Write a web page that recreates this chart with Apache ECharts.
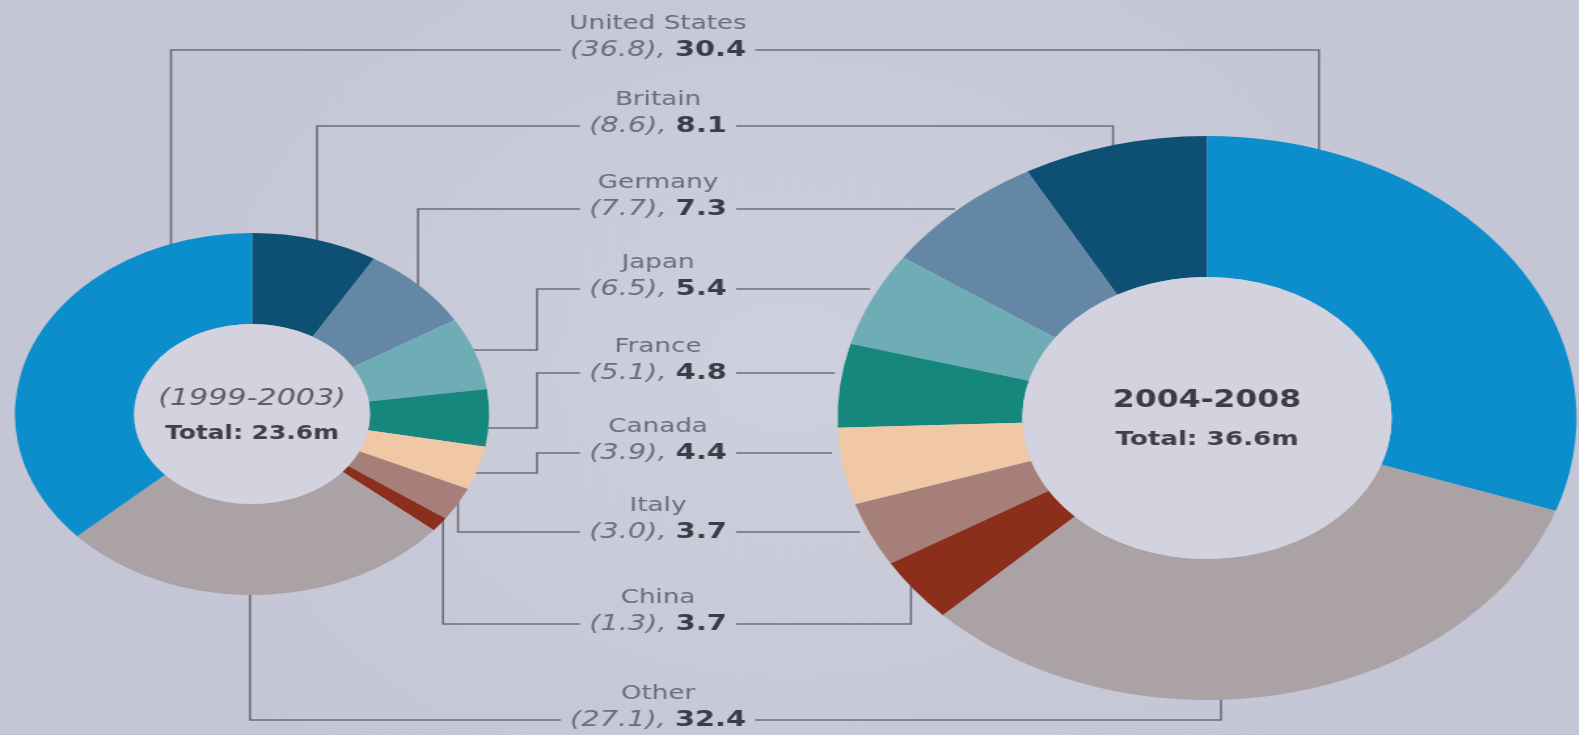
<!DOCTYPE html>
<html>
<head>
<meta charset="utf-8">
<script src="https://cdn.jsdelivr.net/npm/echarts@6/dist/echarts.min.js"></script>
<style>
  html, body { margin: 0; padding: 0; background: #c9cad9; overflow: hidden; }
  #wrap { width: 1579px; height: 735px; overflow: hidden; }
  #chart { height: 735px; transform-origin: 0 0; }
</style>
</head>
<body>
<div id="wrap"><div id="chart"></div></div>
<script>
// shares of the total, percent
const countries = ['United States', 'Britain', 'Germany', 'Japan', 'France', 'Canada', 'Italy', 'China', 'Other'];
const share1999 = [36.8, 8.6, 7.7, 6.5, 5.1, 3.9, 3.0, 1.3, 27.1];
const share2004 = [30.4, 8.1, 7.3, 5.4, 4.8, 4.4, 3.7, 3.7, 32.4];
const periods = ['(1999-2003)', '2004-2008'];
const totals = ['Total: 23.6m', 'Total: 36.6m'];

// slice order from 12 o'clock (left one clockwise, right one anticlockwise)
const pieOrder = ['Britain', 'Germany', 'Japan', 'France', 'Canada', 'Italy', 'China', 'Other', 'United States'];

const colors = {
  'United States': '#0b8ecb',
  'Britain': '#0e4f74',
  'Germany': '#6587a6',
  'Japan': '#6eadb6',
  'France': '#15877c',
  'Canada': '#f1c8a5',
  'Italy': '#a67f79',
  'China': '#8b2e1b',
  'Other': '#aba2a6'
};

// the picture is stretched sideways, so draw narrow and scale the canvas
const SX = 1.31;
const W = Math.ceil(1579 / SX);
const el = document.getElementById('chart');
el.style.width = W + 'px';
el.style.transform = 'scaleX(' + SX + ')';

const FONT = '"DejaVu Sans", Verdana, sans-serif';
const lineColor = '#6d6e7b';

// label rows (y of the value line) and connector routes, page pixels
const rowY = [50, 126, 209, 289, 373, 453, 532, 624, 720];
const labelX = 658;
const leftRoute = [
  [[171, 50], [171, 250]],
  [[317, 126], [317, 250]],
  [[418, 209], [418, 295]],
  [[537, 289], [537, 350], [466, 350]],
  [[537, 373], [537, 428], [478, 428]],
  [[537, 453], [537, 473], [466, 473]],
  [[458, 532], [458, 495]],
  [[443, 624], [443, 515]],
  [[250, 720], [250, 585]]
];
const rightRoute = [
  [[1319, 50], [1319, 165]],
  [[1113, 126], [1113, 165]],
  [[955, 209]],
  [[870, 289]],
  [[835, 373]],
  [[832, 453]],
  [[860, 532]],
  [[911, 624], [911, 580]],
  [[1221, 720], [1221, 690]]
];

const ctx = document.createElement('canvas').getContext('2d');
function textWidth(str, font) {
  ctx.font = font;
  return ctx.measureText(str).width;
}

const fontOld = 'italic 22px ' + FONT;
const fontNew = 'bold 22px ' + FONT;

const graphics = [];
countries.forEach(function (name, i) {
  const y = rowY[i];
  const oldTxt = '(' + share1999[i].toFixed(1) + '), ';
  const newTxt = share2004[i].toFixed(1);
  const w = textWidth(oldTxt, fontOld) + textWidth(newTxt, fontNew);
  const cx = labelX / SX;
  const gap = 7;
  const lp = [[cx - w / 2 - gap, y]].concat(leftRoute[i].map(p => [p[0] / SX, p[1]]));
  const rp = [[cx + w / 2 + gap, y]].concat(rightRoute[i].map(p => [p[0] / SX, p[1]]));
  [lp, rp].forEach(function (pts) {
    graphics.push({
      type: 'polyline', z: 0, silent: true,
      shape: { points: pts },
      style: { stroke: lineColor, lineWidth: 1.6, fill: null }
    });
  });
  graphics.push({
    type: 'text', z: 10, silent: true,
    style: {
      text: name, x: cx, y: y - 26, align: 'center', verticalAlign: 'middle',
      font: '20px ' + FONT, fill: '#6b6c78'
    }
  });
  graphics.push({
    type: 'text', z: 10, silent: true,
    style: {
      text: '{o|' + oldTxt + '}{n|' + newTxt + '}', x: cx, y: y, align: 'center', verticalAlign: 'middle',
      rich: {
        o: { font: fontOld, fill: '#6d6e7a' },
        n: { font: fontNew, fill: '#3b3c46' }
      }
    }
  });
});

const pies = [
  { center: [252 / SX, 414], radius: [90, 181], values: share1999, clockwise: true },
  { center: [1207 / SX, 418], radius: [141, 282], values: share2004, clockwise: false }
];

// centre captions
graphics.push(
  { type: 'text', z: 10, silent: true, style: { text: periods[0], x: pies[0].center[0], y: 399, align: 'center', verticalAlign: 'middle', font: 'italic 23px ' + FONT, fill: '#5c5d69' } },
  { type: 'text', z: 10, silent: true, style: { text: totals[0], x: pies[0].center[0], y: 434, align: 'center', verticalAlign: 'middle', font: 'bold 19px ' + FONT, fill: '#3e3f4a' } },
  { type: 'text', z: 10, silent: true, style: { text: periods[1], x: pies[1].center[0], y: 401, align: 'center', verticalAlign: 'middle', font: 'bold 24px ' + FONT, fill: '#3b3c47' } },
  { type: 'text', z: 10, silent: true, style: { text: totals[1], x: pies[1].center[0], y: 440, align: 'center', verticalAlign: 'middle', font: 'bold 20px ' + FONT, fill: '#3e3f4a' } }
);

const series = [];
pies.forEach(function (p) {
  series.push({
    type: 'pie',
    center: p.center,
    radius: p.radius,
    startAngle: 90,
    clockwise: p.clockwise,
    silent: true,
    z: 2,
    label: { show: false },
    labelLine: { show: false },
    emphasis: { disabled: true },
    itemStyle: { borderWidth: 0 },
    data: pieOrder.map(function (n) {
      return { name: n, value: p.values[countries.indexOf(n)], itemStyle: { color: colors[n] } };
    })
  });
  // the pale hole in the middle
  series.push({
    type: 'pie',
    center: p.center,
    radius: [0, p.radius[0]],
    silent: true,
    z: 2,
    label: { show: false },
    labelLine: { show: false },
    emphasis: { disabled: true },
    data: [{ value: 1, itemStyle: { color: '#d2d3df' } }]
  });
});

const chart = echarts.init(el, null, { renderer: 'canvas' });
chart.setOption({
  animation: false,
  backgroundColor: new echarts.graphic.RadialGradient(0.5, 0.5, 0.75, [
    { offset: 0, color: '#cfd0dd' },
    { offset: 1, color: '#c4c5d5' }
  ]),
  series: series,
  graphic: { elements: graphics }
});
</script>
</body>
</html>
